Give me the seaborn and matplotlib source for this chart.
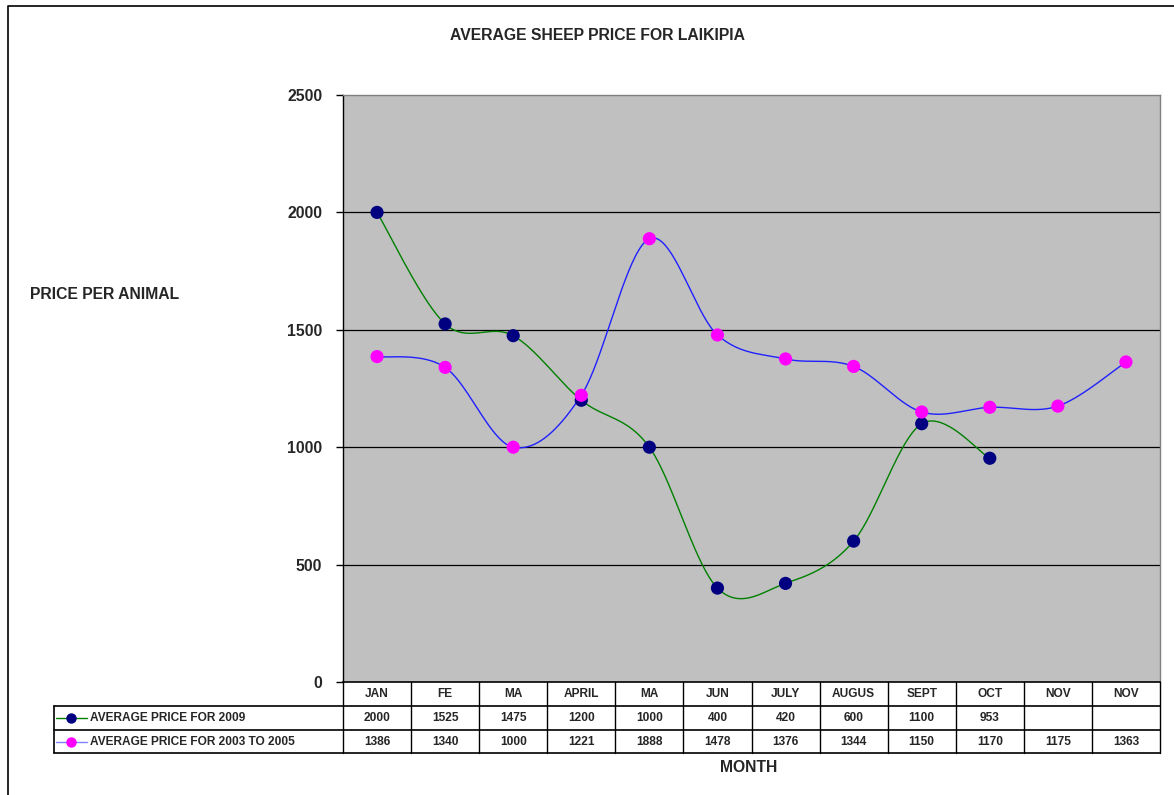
import matplotlib
matplotlib.use("Agg")
import matplotlib.pyplot as plt
from matplotlib.transforms import blended_transform_factory
from matplotlib.lines import Line2D
import numpy as np
import pandas as pd
import seaborn as sns

months = ["JAN", "FE", "MA", "APRIL", "MA", "JUN", "JULY", "AUGUS", "SEPT", "OCT", "NOV", "NOV"]
price_2009 = [2000, 1525, 1475, 1200, 1000, 400, 420, 600, 1100, 953, np.nan, np.nan]
price_0305 = [1386, 1340, 1000, 1221, 1888, 1478, 1376, 1344, 1150, 1170, 1175, 1363]
label_2009 = "AVERAGE PRICE FOR 2009"
label_0305 = "AVERAGE PRICE FOR 2003 TO 2005"

sns.set_style("white")
plt.rcParams["font.family"] = ["Liberation Sans", "DejaVu Sans"]
plt.rcParams["font.weight"] = "bold"

W, H = 1174, 795
fig = plt.figure(figsize=(W / 100, H / 100), dpi=100)
fig.patch.set_facecolor("white")


def fx(px):
    return px / W


def fy(py):
    return 1 - py / H


ax = fig.add_axes([fx(343), fy(682), fx(1160) - fx(343), fy(95) - fy(682)])
ax.set_facecolor("#C0C0C0")


def smooth(vals, n=40):
    # excel-like smoothed line (catmull-rom bezier)
    y = np.array([v for v in vals if not np.isnan(v)], dtype=float)
    x = np.arange(len(y), dtype=float)
    p = np.column_stack([x, y])
    ext = np.vstack([p[0], p, p[-1]])
    out = []
    t = np.linspace(0, 1, n)[:, None]
    for i in range(len(p) - 1):
        p0, p1, p2, p3 = ext[i], ext[i + 1], ext[i + 2], ext[i + 3]
        c1 = p1 + (p2 - p0) / 6
        c2 = p2 - (p3 - p1) / 6
        seg = ((1 - t) ** 3) * p1 + 3 * ((1 - t) ** 2) * t * c1 + 3 * (1 - t) * t ** 2 * c2 + t ** 3 * p2
        out.append(seg)
    out = np.vstack(out)
    return pd.DataFrame({"x": out[:, 0], "y": out[:, 1]})


s1 = smooth(price_2009)
s2 = smooth(price_0305)
sns.lineplot(data=s1, x="x", y="y", sort=False, color="#008000", lw=1, ax=ax, estimator=None)
sns.lineplot(data=s2, x="x", y="y", sort=False, color="#2020FF", lw=1, ax=ax, estimator=None)

pts = pd.DataFrame({"x": np.arange(len(months)), "a": price_2009, "b": price_0305})
sns.scatterplot(data=pts, x="x", y="a", color="#000080", s=90, edgecolor="none", ax=ax, zorder=3)
sns.scatterplot(data=pts, x="x", y="b", color="#FF00FF", s=90, edgecolor="none", ax=ax, zorder=4)

ax.set_xlim(-0.5, 11.5)
ax.set_ylim(0, 2500)
ax.set_yticks(range(0, 2501, 500))
ax.set_yticklabels([str(v) for v in range(0, 2501, 500)], fontsize=11.3, fontweight="bold")
ax.tick_params(axis="y", direction="out", length=5, width=1, color="black", pad=10, left=True)
ax.set_xticks([])
ax.set_xlabel("")
ax.set_ylabel("")
for v in range(500, 2001, 500):
    ax.axhline(v, color="black", lw=0.9, zorder=1)
for side in ["top", "right"]:
    ax.spines[side].set_color("#808080")
    ax.spines[side].set_linewidth(1)
ax.spines["left"].set_color("black")
ax.spines["bottom"].set_color("black")
ax.spines["left"].set_linewidth(1)
ax.spines["bottom"].set_linewidth(1.2)

# data table below the plot
tr = blended_transform_factory(ax.transData, fig.transFigure)
rows = [682, 706, 730, 753]
for k in range(len(months) + 1):
    fig.add_artist(Line2D([k - 0.5, k - 0.5], [fy(682), fy(753)], color="black", lw=1, transform=tr))
for r in rows[1:]:
    fig.add_artist(Line2D([fx(54), fx(1160)], [fy(r), fy(r)], color="black", lw=1.2, transform=fig.transFigure))
fig.add_artist(Line2D([fx(54), fx(54)], [fy(706), fy(753)], color="black", lw=1.2, transform=fig.transFigure))

for k, m in enumerate(months):
    fig.text(k, fy(694), m, transform=tr, ha="center", va="center", fontsize=8.6, fontweight="bold")
    if not np.isnan(price_2009[k]):
        fig.text(k, fy(718), str(int(price_2009[k])), transform=tr, ha="center", va="center",
                 fontsize=8.6, fontweight="bold")
    fig.text(k, fy(742), str(int(price_0305[k])), transform=tr, ha="center", va="center",
             fontsize=8.6, fontweight="bold")

for yy, lc, mc, lab in [(718, "#008000", "#000080", label_2009), (742, "#8080FF", "#FF00FF", label_0305)]:
    fig.add_artist(Line2D([fx(56), fx(87)], [fy(yy), fy(yy)], color=lc, lw=1, transform=fig.transFigure))
    fig.add_artist(Line2D([fx(71)], [fy(yy)], color=mc, marker="o", markersize=7.5, markeredgewidth=0,
                          transform=fig.transFigure))
    fig.text(fx(90), fy(yy), lab, ha="left", va="center", fontsize=8.6, fontweight="bold")

fig.text(fx(597), fy(35), "AVERAGE SHEEP PRICE FOR LAIKIPIA", ha="center", va="center",
         fontsize=11.3, fontweight="bold")
fig.text(fx(30), fy(295), "PRICE PER ANIMAL", ha="left", va="center", fontsize=11.3, fontweight="bold")
fig.text(fx(749), fy(768), "MONTH", ha="center", va="center", fontsize=11.3, fontweight="bold")

# outer chart border (runs off the right and bottom edges)
fig.add_artist(Line2D([fx(8), fx(8), fx(1180)], [fy(800), fy(6), fy(6)],
                      color="black", lw=1.2, transform=fig.transFigure))

fig.savefig("out.png", dpi=100, facecolor="white")
